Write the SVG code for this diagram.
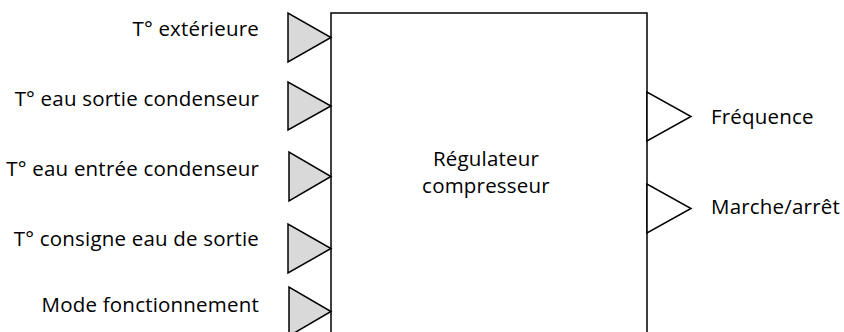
<svg xmlns="http://www.w3.org/2000/svg" width="844" height="332" viewBox="0 0 844 332">
<style>
text{font-family:"Open Sans","Noto Sans",sans-serif;font-size:20.5px;letter-spacing:0.2px;fill:#000}
.l{text-anchor:end}
.c{text-anchor:middle}
.in{fill:#d9d9d9;stroke:#000;stroke-width:1.5;stroke-linejoin:miter}
.out{fill:#fff;stroke:#000;stroke-width:1.5}
.box{fill:#fff;stroke:#000;stroke-width:1.5}
</style>
<rect width="844" height="332" fill="#fff"/>
<g id="regulateur">
<rect class="box" x="331" y="13" width="316" height="330"/>
<text class="c" x="486" y="166">Régulateur</text>
<text class="c" x="486" y="193">compresseur</text>
</g>
<g id="in-text">
<polygon class="in" points="288,13 288,62 331,37.5"/>
<text class="l" x="259" y="35.5">T° extérieure</text>
</g>
<g id="in-tsortie">
<polygon class="in" points="288,82 288,130 331,106"/>
<text class="l" x="259" y="105.5">T° eau sortie condenseur</text>
</g>
<g id="in-tentree">
<polygon class="in" points="289,152 289,201 331,176.5"/>
<text class="l" x="259" y="176">T° eau entrée condenseur</text>
</g>
<g id="in-consigne">
<polygon class="in" points="288,224 288,273 331,248.5"/>
<text class="l" x="259" y="245.5">T° consigne eau de sortie</text>
</g>
<g id="in-mode">
<polygon class="in" points="289,287 289,336 331,311.5"/>
<text class="l" x="259" y="311.5">Mode fonctionnement</text>
</g>
<g id="out-frequence">
<polygon class="out" points="647,92 647,141 691,116.5"/>
<text x="711" y="124">Fréquence</text>
</g>
<g id="out-marche">
<polygon class="out" points="647,184 647,233 691,208.5"/>
<text x="711" y="214">Marche/arrêt</text>
</g>
<g id="connectors"></g>
</svg>
